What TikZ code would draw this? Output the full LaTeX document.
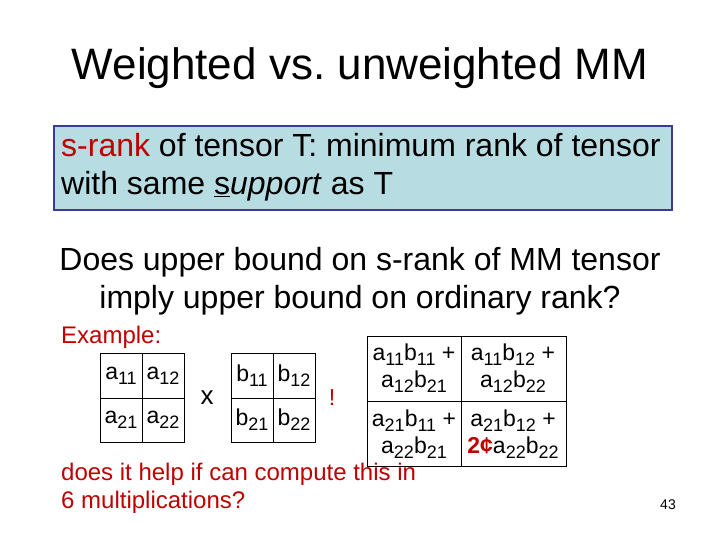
\documentclass[tikz,border=0pt]{standalone}
\usepackage{fontspec}
\setmainfont{Liberation Sans}
\definecolor{boxfill}{HTML}{B7DDE3}
\definecolor{boxline}{HTML}{3B3B8F}
\definecolor{myred}{HTML}{C00000}
\newcommand{\subx}[1]{\raisebox{-0.4ex}{\fontsize{18}{20}\selectfont #1}}
\begin{document}
\begin{tikzpicture}[x=1pt,y=-1pt,
  txt/.style={inner sep=0pt,align=center},
  cell/.style={draw,line width=1pt},
  ent/.style={inner sep=0pt,font=\fontsize{23}{26}\selectfont}]
\useasboundingbox (0,0) rectangle (720,540);
\node[txt,font=\fontsize{44}{48}\selectfont] (title) at (360,68) {Weighted vs.\ unweighted MM};
\draw[fill=boxfill,draw=boxline,line width=2.5pt] (54,126) rectangle (672,210);
\node[txt,anchor=north west,align=left,font=\fontsize{32}{38}\selectfont] (def) at (61,133)
  {\textcolor{myred}{s-rank} of tensor T: minimum rank of tensor\\with same \underline{s}\emph{upport} as T};
\node[txt,font=\fontsize{32}{38}\selectfont] (q) at (360,281)
  {Does upper bound on s-rank of MM tensor\\imply upper bound on ordinary rank?};
\node[txt,anchor=west,text=myred,font=\fontsize{24}{26}\selectfont] (ex) at (61,337) {Example:};
% A matrix
\draw[cell] (100,353) rectangle (184,442);
\draw[cell] (142,353) -- (142,442) (100,398) -- (184,398);
\node[ent] (a11) at (121,376) {a\subx{11}};
\node[ent] (a12) at (163,376) {a\subx{12}};
\node[ent] (a21) at (121,420) {a\subx{21}};
\node[ent] (a22) at (163,420) {a\subx{22}};
\node[ent,font=\fontsize{26}{28}\selectfont] (x) at (207,398) {x};
% B matrix
\draw[cell] (231,353) rectangle (315,442);
\draw[cell] (273,353) -- (273,442) (231,398) -- (315,398);
\node[ent] (b11) at (252,376) {b\subx{11}};
\node[ent] (b12) at (294,376) {b\subx{12}};
\node[ent] (b21) at (252,420) {b\subx{21}};
\node[ent] (b22) at (294,420) {b\subx{22}};
\node[ent,text=myred] (ex2) at (332,398) {!};
% C matrix
\draw[cell] (367,336) rectangle (566,466);
\draw[cell] (461,336) -- (461,466) (367,401) -- (566,401);
\node[ent,align=center,font=\fontsize{23}{27}\selectfont] (c11) at (414,368) {a\subx{11}b\subx{11} +\\a\subx{12}b\subx{21}};
\node[ent,align=center,font=\fontsize{23}{27}\selectfont] (c12) at (513,368) {a\subx{11}b\subx{12} +\\a\subx{12}b\subx{22}};
\node[ent,align=center,font=\fontsize{23}{27}\selectfont] (c21) at (414,434) {a\subx{21}b\subx{11} +\\a\subx{22}b\subx{21}};
\node[ent,align=center,font=\fontsize{23}{27}\selectfont] (c22) at (513,434) {a\subx{21}b\subx{12} +\\\textcolor{myred}{\textbf{2¢}}a\subx{22}b\subx{22}};
\node[txt,anchor=north west,align=left,text=myred,font=\fontsize{24}{28}\selectfont] (help) at (61,463)
  {does it help if can compute this in\\6 multiplications?};
\node[txt,font=\fontsize{14}{16}\selectfont] (pg) at (668,505) {43};
\end{tikzpicture}
\end{document}
